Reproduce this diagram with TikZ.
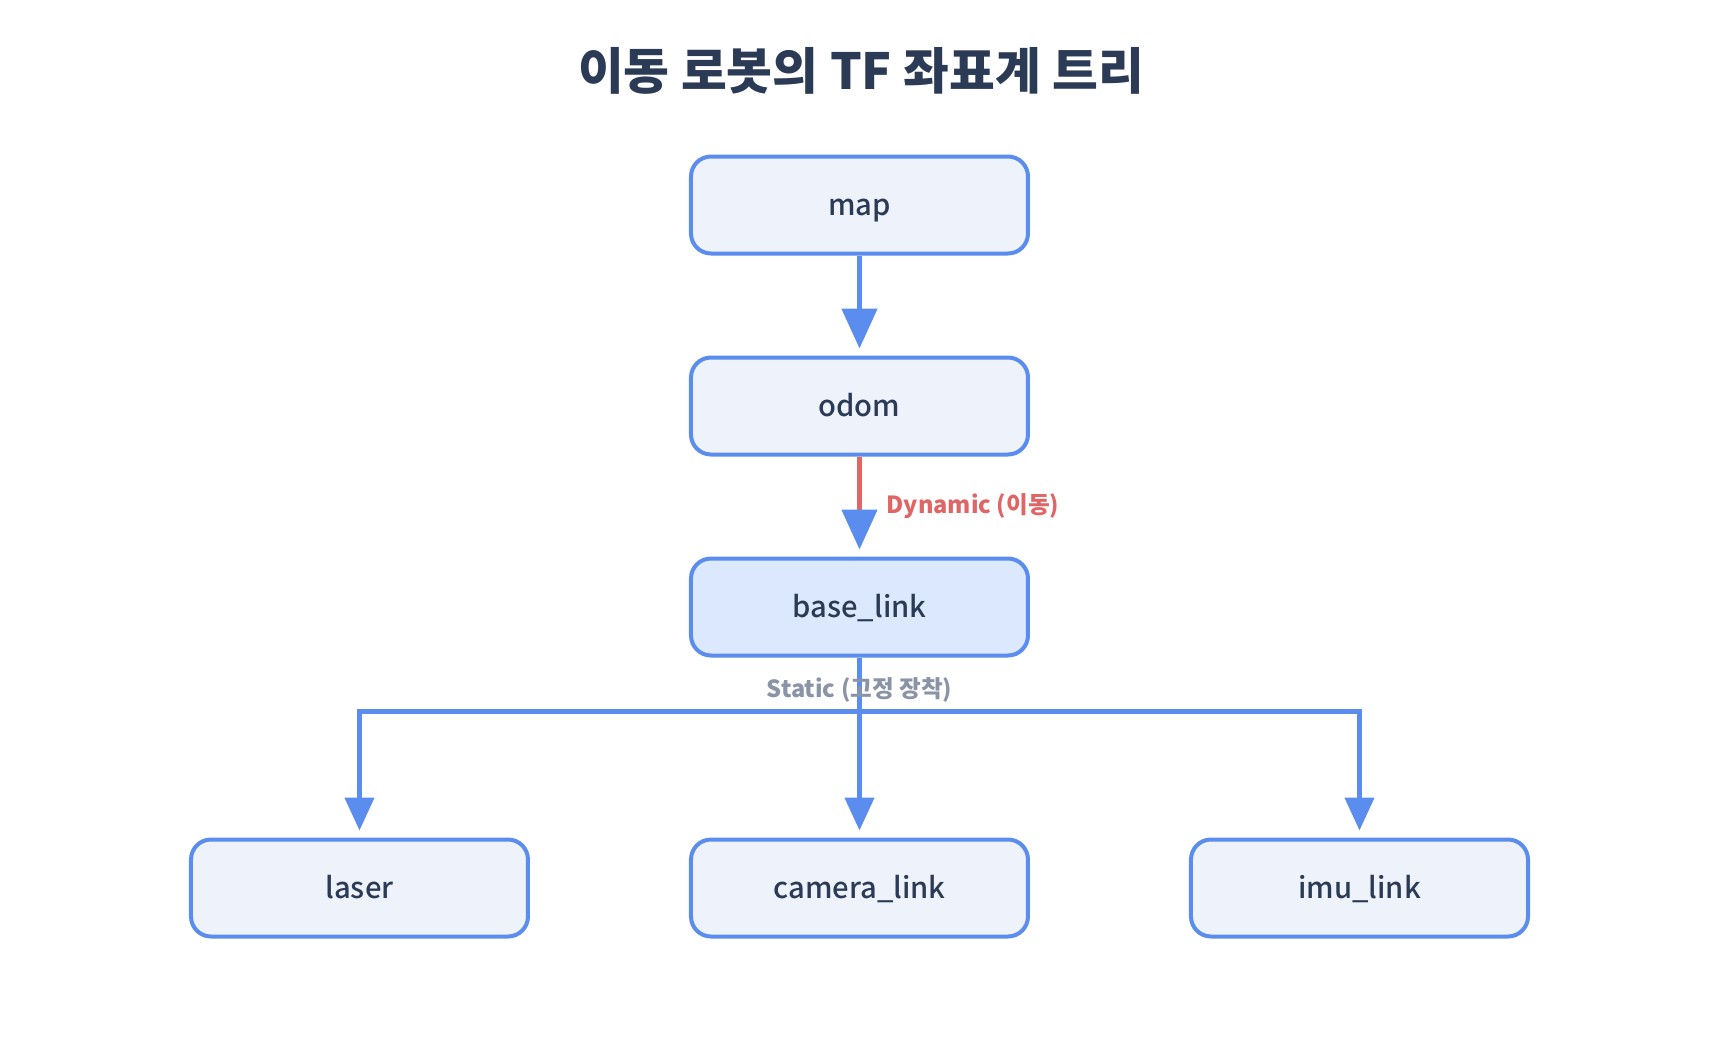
\documentclass[tikz,border=0pt]{standalone}
\usepackage{fontspec}
\setmainfont{Noto Sans CJK KR}
\newfontfamily\framefont{Noto Sans CJK KR Medium}
\usetikzlibrary{positioning,arrows.meta}

\definecolor{framefill}{HTML}{EDF2FB}
\definecolor{basefill}{HTML}{DCE8FD}
\definecolor{frameline}{HTML}{5B8DEF}
\definecolor{labeltext}{HTML}{2B3A55}
\definecolor{dynred}{HTML}{E06666}
\definecolor{staticgray}{HTML}{8A94A6}

\tikzset{
  frame/.style={draw=frameline, line width=2pt, fill=framefill, rounded corners=10pt,
    minimum width=168.5pt, minimum height=48.5pt, text=labeltext,
    text height=11pt, text depth=1pt,
    font=\framefont\fontsize{14.6}{17}\selectfont},
  tfedge/.style={draw=frameline, line width=2.5pt, shorten >=3.5pt,
    -{Triangle[length=20pt, width=17.5pt, color=frameline]}},
  staticedge/.style={draw=frameline, line width=2.3pt, shorten >=3.5pt,
    -{Triangle[length=16.5pt, width=14.5pt, color=frameline]}},
}

\begin{document}
\begin{tikzpicture}
    % lienzo
    \useasboundingbox (-429.75pt,-417.5pt) rectangle (430.25pt,102.5pt);

    % titulo
    \node (title) at (0.75pt,67pt) {\fontsize{24.9}{29}\selectfont\bfseries\color{labeltext}이동 로봇의 TF 좌표계 트리};

    % marcos del arbol
    \node[frame] (map) at (0,0) {map};
    \node[frame, below=50pt of map] (odom) {odom};
    \node[frame, fill=basefill, below=50pt of odom] (base) {base\_link};
    \node[frame, below=90pt of base] (camera) {camera\_link};
    \node[frame, left=79.5pt of camera] (laser) {laser};
    \node[frame, right=79.5pt of camera] (imu) {imu\_link};

    % map -> odom
    \draw[tfedge] (map) -- (odom);
    % odom -> base_link (dinamico)
    \draw[tfedge, draw=dynred] (odom) -- node[right, xshift=9pt, text=dynred,
      font=\fontsize{11.8}{14}\selectfont\bfseries] (dynlabel) {Dynamic (이동)} (base);

    % base_link -> sensores (estatico)
    \coordinate (split) at ([yshift=-27pt]base.south);
    \draw[staticedge] (base) -- (camera);
    \draw[staticedge] (split) -| (laser);
    \draw[staticedge] (split) -| (imu);
    \node[text=staticgray, font=\fontsize{11.8}{14}\selectfont\bfseries] (statlabel)
      at ([yshift=-16pt]base.south) {Static (고정 장착)};
\end{tikzpicture}
\end{document}
